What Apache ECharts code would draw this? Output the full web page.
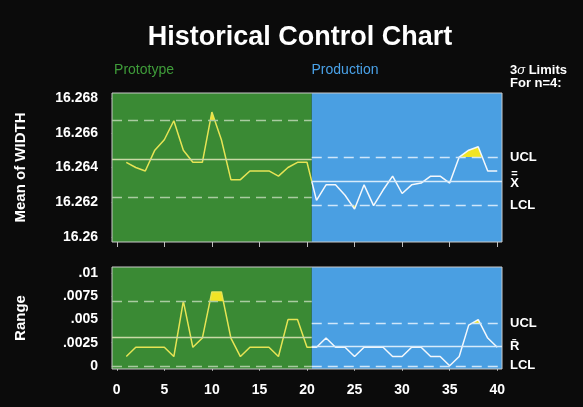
<!DOCTYPE html>
<html>
<head>
<meta charset="utf-8">
<title>Historical Control Chart</title>
<script src="https://cdn.jsdelivr.net/npm/echarts@6/dist/echarts.min.js"></script>
<style>
  html, body { margin: 0; padding: 0; background: #0b0b0b; }
  #main { width: 583px; height: 407px; }
</style>
</head>
<body>
<div id="main"></div>
<script>
// sample number 1..40, first 20 are prototype, the rest production
const samples = Array.from({ length: 40 }, (_, i) => i + 1);
const protoX = samples.slice(0, 20);
const prodX = samples.slice(20);

const meanProto = [16.2643, 16.2640, 16.2638, 16.2650, 16.2656, 16.2667, 16.2650, 16.2643, 16.2643, 16.2672,
  16.2656, 16.2633, 16.2633, 16.2638, 16.2638, 16.2638, 16.2635, 16.2640, 16.2643, 16.2643];
const meanProd = [16.2621, 16.2630, 16.2630, 16.2624, 16.2616, 16.2630, 16.2618, 16.2627, 16.2635, 16.2625,
  16.2630, 16.2631, 16.2635, 16.2635, 16.2631, 16.2646, 16.2650, 16.2652, 16.2638, 16.2638];
const rangeProto = [.001, .002, .002, .002, .002, .001, .007, .002, .003, .008,
  .008, .003, .001, .002, .002, .002, .001, .005, .005, .002];
const rangeProd = [.002, .003, .002, .002, .001, .002, .002, .002, .001, .001,
  .002, .002, .001, .001, 0, .001, .0044, .005, .003, .002];

// [UCL, centre, LCL]
const meanLimitsProto = [16.2667, 16.2645, 16.2623];
const meanLimitsProd = [16.2646, 16.2632, 16.2618];
const rangeLimitsProto = [.0070, .0031, 0];
const rangeLimitsProd = [.0046, .0021, 0];

const xTicks = [0, 5, 10, 15, 20, 25, 30, 35, 40];
const meanTicks = [16.26, 16.262, 16.264, 16.266, 16.268];
const rangeTicks = [0, .0025, .005, .0075, .01];

const FONT = 'Liberation Sans';
const GREEN = '#3a8a34';
const BLUE = '#4a9fe2';
const YELLOW = '#f2e424';
const X_MIN = -0.5, X_SPLIT = 20.5, X_MAX = 40.5;
const axisRange = [[16.2597, 16.2683], [-0.00035, 0.0107]];

// points outside a limit, with the crossing points put in, so the fill follows the line
function outside(xs, ys, limit, above) {
  const out = [];
  for (let i = 0; i < ys.length; i++) {
    if (i > 0) {
      const a = ys[i - 1] - limit, b = ys[i] - limit;
      if (a * b < 0) {
        const t = a / (a - b);
        out.push([xs[i - 1] + t * (xs[i] - xs[i - 1]), limit]);
      }
    }
    out.push([xs[i], above ? Math.max(ys[i], limit) : Math.min(ys[i], limit)]);
  }
  return out;
}

const barRich = {
  b: { fontSize: 11, lineHeight: 5, width: 9, align: 'center', color: '#fff', fontWeight: 'bold' },
  x: { fontSize: 13, lineHeight: 15, width: 9, align: 'center', color: '#fff', fontWeight: 'bold' }
};

function panelSeries(gi, proto, prod, limProto, limProd, centreName) {
  const [yMin, yMax] = axisRange[gi];
  const mid = (proto[proto.length - 1] + prod[0]) / 2;
  const base = { type: 'line', xAxisIndex: gi, yAxisIndex: gi, silent: true, symbol: 'none' };
  const lbl = (text) => ({
    show: true, position: 'end', distance: 8, formatter: text, rich: barRich,
    color: '#fff', fontFamily: FONT, fontWeight: 'bold', fontSize: 13
  });
  const limLine = (x0, x1, v, dashed, colour, text) => [
    {
      coord: [x0, v],
      lineStyle: { color: colour, width: 1.3, type: dashed ? [10, 6] : 'solid' },
      label: text ? lbl(text) : { show: false }
    },
    { coord: [x1, v] }
  ];
  const fill = (xs, ys, limit, above) => Object.assign({}, base, {
    z: 3,
    data: outside(xs, ys, limit, above),
    lineStyle: { width: 0 },
    areaStyle: { origin: limit, color: YELLOW, opacity: 1 }
  });

  return [
    Object.assign({}, base, {
      z: 1, data: [],
      markArea: {
        silent: true,
        data: [
          [{ xAxis: X_MIN, yAxis: yMin, itemStyle: { color: GREEN } }, { xAxis: X_SPLIT, yAxis: yMax }],
          [{ xAxis: X_SPLIT, yAxis: yMin, itemStyle: { color: BLUE } }, { xAxis: X_MAX, yAxis: yMax }]
        ]
      }
    }),
    Object.assign({}, base, {
      z: 2, data: [],
      markLine: {
        silent: true, symbol: ['none', 'none'], animation: false,
        data: [
          limLine(X_MIN, X_SPLIT, limProto[0], true, '#a9cba0'),
          limLine(X_MIN, X_SPLIT, limProto[1], false, '#c9d9a6'),
          limLine(X_MIN, X_SPLIT, limProto[2], true, '#a9cba0'),
          limLine(X_SPLIT, X_MAX, limProd[0], true, '#cfe6fa', 'UCL'),
          limLine(X_SPLIT, X_MAX, limProd[1], false, '#d6ebfb', centreName),
          limLine(X_SPLIT, X_MAX, limProd[2], true, '#cfe6fa', 'LCL')
        ]
      }
    }),
    fill(protoX, proto, limProto[0], true),
    fill(protoX, proto, limProto[2], false),
    fill(prodX, prod, limProd[0], true),
    fill(prodX, prod, limProd[2], false),
    Object.assign({}, base, {
      z: 4,
      data: protoX.map((x, i) => [x, proto[i]]).concat([[X_SPLIT, mid]]),
      lineStyle: { color: '#e6e455', width: 1.5 }
    }),
    Object.assign({}, base, {
      z: 4,
      data: [[X_SPLIT, mid]].concat(prodX.map((x, i) => [x, prod[i]])),
      lineStyle: { color: '#f4f8fc', width: 1.5 }
    }),
    Object.assign({}, base, {
      z: 5, data: [],
      markArea: {
        silent: true,
        itemStyle: { color: 'rgba(0,0,0,0)', borderColor: '#c9c9c9', borderWidth: 1 },
        data: [[{ xAxis: X_MIN, yAxis: yMin }, { xAxis: X_MAX, yAxis: yMax }]]
      }
    })
  ];
}

function xAxis(gi, showLabels) {
  return {
    type: 'value', gridIndex: gi, min: X_MIN, max: X_MAX,
    axisLine: { show: false },
    splitLine: { show: false },
    axisTick: { show: true, customValues: xTicks, length: 5, lineStyle: { color: '#bdbdbd' } },
    axisLabel: {
      show: showLabels, customValues: xTicks, margin: 14,
      color: '#fff', fontFamily: FONT, fontWeight: 'bold', fontSize: 14
    }
  };
}

function yAxis(gi, ticks, name, fmt) {
  return {
    type: 'value', gridIndex: gi, min: axisRange[gi][0], max: axisRange[gi][1],
    name: name, nameLocation: 'middle', nameGap: 84,
    nameTextStyle: { color: '#fff', fontFamily: FONT, fontWeight: 'bold', fontSize: 15 },
    axisLine: { show: false },
    splitLine: { show: false },
    axisTick: { show: true, customValues: ticks, length: 5, lineStyle: { color: '#bdbdbd' } },
    axisLabel: {
      customValues: ticks, margin: 14, formatter: fmt,
      color: '#fff', fontFamily: FONT, fontWeight: 'bold', fontSize: 14
    }
  };
}

const txt = (x, y, text, fill, size, weight, align, rich) => ({
  type: 'text', x: x, y: y, silent: true,
  style: {
    text: text, fill: fill, textAlign: align, textVerticalAlign: 'middle',
    font: weight + ' ' + size + 'px "' + FONT + '"', rich: rich
  }
});

const chart = echarts.init(document.getElementById('main'));
chart.setOption({
  backgroundColor: '#0b0b0b',
  animation: false,
  grid: [
    { left: 112, width: 390, top: 93, height: 149 },
    { left: 112, width: 390, top: 267, height: 102 }
  ],
  xAxis: [xAxis(0, false), xAxis(1, true)],
  yAxis: [
    yAxis(0, meanTicks, 'Mean of WIDTH', (v) => String(v)),
    yAxis(1, rangeTicks, 'Range', (v) => String(v).replace(/^0\./, '.'))
  ],
  graphic: [
    txt(300, 38, 'Historical Control Chart', '#fff', 27, 'bold', 'center'),
    txt(144, 70, 'Prototype', '#3f9c3a', 14, 'normal', 'center'),
    txt(345, 70, 'Production', '#4aa2e8', 14, 'normal', 'center'),
    txt(510, 70, '3{s|σ} Limits', '#fff', 13, 'bold', 'left',
      { s: { fontStyle: 'italic', fontWeight: 'normal', fontSize: 13, fill: '#fff' } }),
    txt(510, 83, 'For n=4:', '#fff', 13, 'bold', 'left')
  ],
  series: [].concat(
    panelSeries(0, meanProto, meanProd, meanLimitsProto, meanLimitsProd, '{b|=}\n{x|X}'),
    panelSeries(1, rangeProto, rangeProd, rangeLimitsProto, rangeLimitsProd, 'R\u0304')
  )
});
</script>
</body>
</html>
